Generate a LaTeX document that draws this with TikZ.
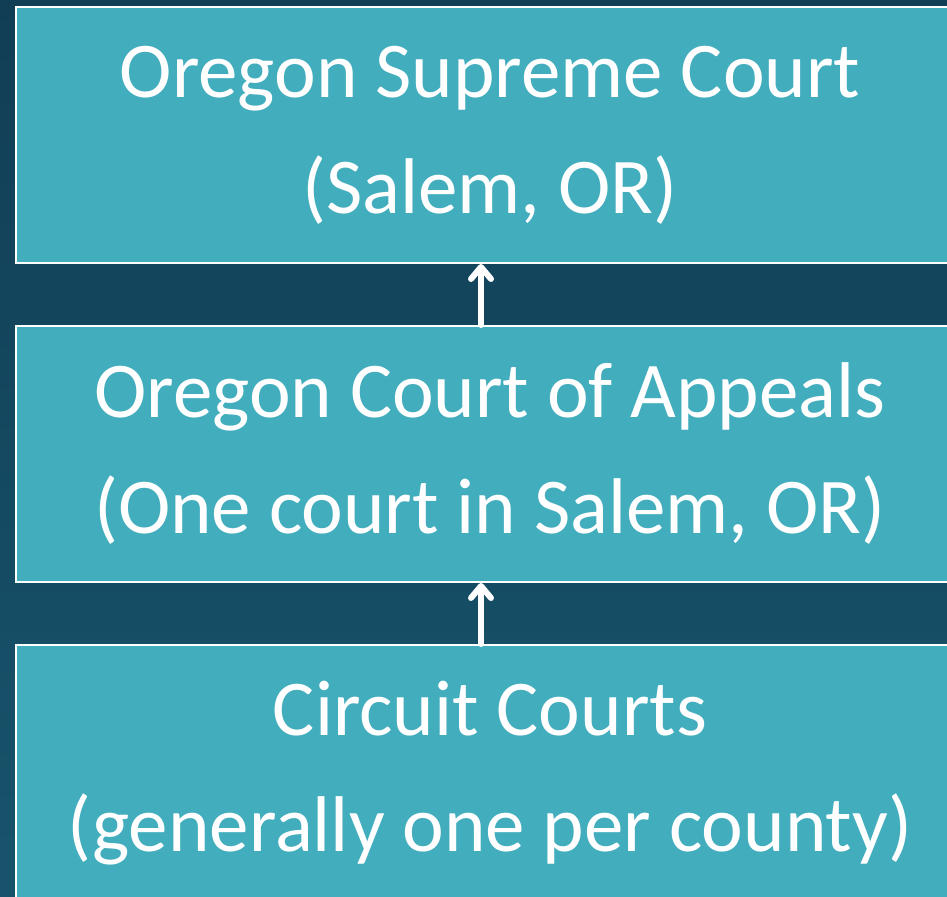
\documentclass[tikz,border=0pt]{standalone}
\usepackage{fontspec}
\setmainfont{Carlito}
\usepackage{tikz}
\usetikzlibrary{arrows.meta}
\definecolor{bgtop}{RGB}{17,62,85}
\definecolor{bgbottom}{RGB}{23,84,108}
\definecolor{courtteal}{RGB}{65,173,189}

\tikzset{
  court/.style={draw=white, line width=1pt, fill=courtteal, text=white,
    align=center, minimum width=474pt, minimum height=128pt, inner sep=0pt,
    font=\fontsize{39.5}{58}\selectfont},
  appeal/.style={draw=white, line width=3pt, line cap=round,
    -{Straight Barb[length=6pt, width=10pt, round]}}
}

\begin{document}
\begin{tikzpicture}[x=0.5pt, y=-0.5pt]
\useasboundingbox (0,0) rectangle (947,897);
\clip (0,0) rectangle (947,897);
\shade[top color=bgtop, bottom color=bgbottom] (0,0) rectangle (947,897);
% the three levels, top to bottom
\node[court] (supreme) at (490,135) {Oregon Supreme Court\\(Salem, OR)};
\node[court] (appeals) at (490,454) {Oregon Court of Appeals\\(One court in Salem, OR)};
\node[court] (circuit) at (490,773) {Circuit Courts\\(generally one per county)};
% appeals go up
\draw[appeal] ([xshift=-4.5pt]appeals.north) -- ([xshift=-4.5pt]supreme.south);
\draw[appeal] ([xshift=-4.5pt]circuit.north) -- ([xshift=-4.5pt]appeals.south);
\end{tikzpicture}
\end{document}
